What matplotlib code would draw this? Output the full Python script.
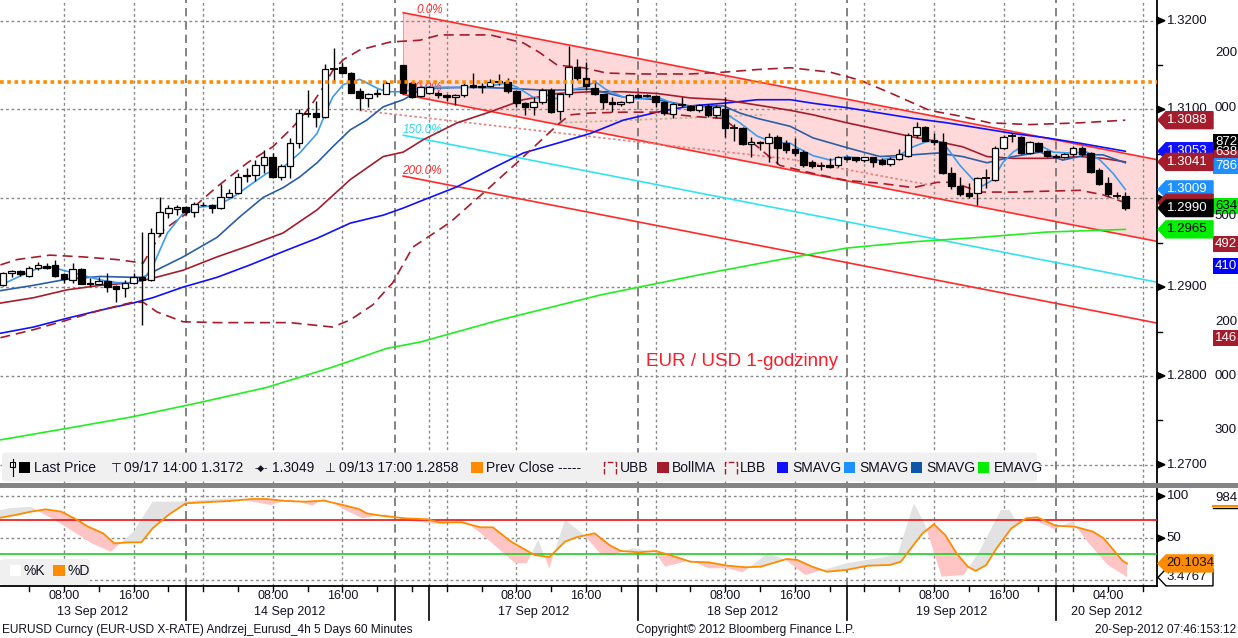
import numpy as np
import matplotlib
matplotlib.use("Agg")
import matplotlib.pyplot as plt
from matplotlib.patches import Polygon, Rectangle, FancyBboxPatch

plt.rcParams['font.family'] = ['Liberation Sans', 'DejaVu Sans']

# ---------------- data (hour index: 0 = 12 Sep 22:00, weekend compressed) ----------------
nan = np.nan
hours = list(range(3, 133))
opens = [1.2902, 1.2916, 1.2918, 1.2913, 1.2921, 1.2924, 1.2925, 1.2915, 1.2908, 1.2920,
         1.2905, 1.2903, 1.2907, 1.2901, 1.2899, 1.2905, 1.2911, 1.2908, 1.2961, 1.2984,
         1.2988, 1.2990, 1.2985, 1.2992, 1.2992, 1.2989, 1.3002, 1.3006, 1.3025, 1.3026,
         1.3037, 1.3047, 1.3024, 1.3036, 1.3062, 1.3095, 1.3096, 1.3091, 1.3146, 1.3148,
         1.3141, 1.3121, 1.3113, 1.3118, 1.3118, nan, 1.3150, 1.3130, 1.3115, 1.3119,
         1.3119, 1.3116, 1.3114, 1.3116, 1.3128, 1.3125, 1.3127, 1.3131, 1.3131, 1.3121,
         1.3107, 1.3103, 1.3109, 1.3122, 1.3098, 1.3118, 1.3148, 1.3136, 1.3124, 1.3117,
         1.3109, 1.3106, 1.3108, 1.3116, 1.3115, 1.3115, 1.3108, 1.3095, 1.3105, 1.3104,
         1.3099, 1.3104, 1.3094, 1.3101, 1.3079, 1.3079, 1.3061, 1.3063, 1.3062, 1.3069,
         1.3062, 1.3056, 1.3052, 1.3041, 1.3036, 1.3037, 1.3037, 1.3047, 1.3046, 1.3043,
         1.3046, 1.3043, 1.3039, 1.3044, 1.3048, 1.3071, 1.3080, 1.3066, 1.3063, 1.3028,
         1.3014, 1.3006, 1.3006, 1.3023, 1.3021, 1.3057, 1.3070, 1.3069, 1.3051, 1.3062,
         1.3053, 1.3048, 1.3046, 1.3050, 1.3057, 1.3051, 1.3032, 1.3017, 1.3003, 1.3003]
closes = [1.2916, 1.2918, 1.2915, 1.2922, 1.2925, 1.2922, 1.2913, 1.2909, 1.2920, 1.2904,
          1.2903, 1.2907, 1.2900, 1.2898, 1.2905, 1.2911, 1.2908, 1.2961, 1.2985, 1.2989,
          1.2990, 1.2985, 1.2994, 1.2993, 1.2989, 1.3002, 1.3006, 1.3024, 1.3026, 1.3037,
          1.3047, 1.3024, 1.3036, 1.3062, 1.3096, 1.3095, 1.3091, 1.3146, 1.3146, 1.3141,
          1.3119, 1.3113, 1.3118, 1.3119, 1.3130, nan, 1.3119, 1.3114, 1.3125, 1.3125,
          1.3116, 1.3114, 1.3116, 1.3128, 1.3125, 1.3126, 1.3131, 1.3131, 1.3121, 1.3107,
          1.3103, 1.3109, 1.3122, 1.3097, 1.3118, 1.3148, 1.3136, 1.3126, 1.3118, 1.3108,
          1.3106, 1.3108, 1.3116, 1.3114, 1.3115, 1.3108, 1.3096, 1.3106, 1.3105, 1.3099,
          1.3105, 1.3094, 1.3103, 1.3079, 1.3079, 1.3061, 1.3063, 1.3062, 1.3069, 1.3057,
          1.3054, 1.3051, 1.3037, 1.3036, 1.3036, 1.3035, 1.3047, 1.3044, 1.3043, 1.3046,
          1.3041, 1.3039, 1.3044, 1.3050, 1.3071, 1.3080, 1.3065, 1.3063, 1.3028, 1.3014,
          1.3005, 1.3003, 1.3023, 1.3023, 1.3057, 1.3069, 1.3070, 1.3051, 1.3063, 1.3053,
          1.3048, 1.3046, 1.3050, 1.3057, 1.3050, 1.3030, 1.3016, 1.3005, 1.3003, 1.2989]
highs = [1.2917, 1.2919, 1.2919, 1.2924, 1.2928, 1.2927, 1.2931, 1.2916, 1.2927, 1.2922,
         1.2910, 1.2911, 1.2916, 1.2902, 1.2908, 1.2916, 1.2962, 1.2967, 1.3001, 1.2993,
         1.2993, 1.2991, 1.2996, 1.2996, 1.2994, 1.3016, 1.3011, 1.3029, 1.3034, 1.3043,
         1.3054, 1.3051, 1.3039, 1.3068, 1.3101, 1.3122, 1.3110, 1.3151, 1.3169, 1.3153,
         1.3142, 1.3124, 1.3119, 1.3123, 1.3132, nan, 1.3150, 1.3131, 1.3126, 1.3126,
         1.3121, 1.3117, 1.3117, 1.3130, 1.3141, 1.3130, 1.3134, 1.3140, 1.3136, 1.3122,
         1.3108, 1.3114, 1.3124, 1.3124, 1.3119, 1.3172, 1.3157, 1.3154, 1.3133, 1.3118,
         1.3114, 1.3110, 1.3117, 1.3118, 1.3118, 1.3116, 1.3110, 1.3107, 1.3114, 1.3105,
         1.3106, 1.3106, 1.3105, 1.3114, 1.3084, 1.3080, 1.3069, 1.3065, 1.3074, 1.3071,
         1.3066, 1.3068, 1.3054, 1.3043, 1.3041, 1.3045, 1.3048, 1.3048, 1.3047, 1.3047,
         1.3047, 1.3045, 1.3046, 1.3056, 1.3073, 1.3086, 1.3081, 1.3073, 1.3074, 1.3035,
         1.3024, 1.3017, 1.3024, 1.3033, 1.3059, 1.3071, 1.3074, 1.3070, 1.3065, 1.3063,
         1.3054, 1.3050, 1.3051, 1.3059, 1.3059, 1.3052, 1.3034, 1.3024, 1.3007, 1.3007]
lows = [1.2901, 1.2911, 1.2912, 1.2911, 1.2919, 1.2920, 1.2911, 1.2905, 1.2905, 1.2903,
        1.2901, 1.2902, 1.2894, 1.2883, 1.2889, 1.2904, 1.2857, 1.2907, 1.2958, 1.2978,
        1.2981, 1.2981, 1.2979, 1.2991, 1.2984, 1.2988, 1.3001, 1.3005, 1.3018, 1.3020,
        1.3028, 1.3023, 1.3021, 1.3023, 1.3057, 1.3092, 1.3080, 1.3090, 1.3131, 1.3140,
        1.3119, 1.3099, 1.3103, 1.3114, 1.3117, nan, 1.3118, 1.3113, 1.3114, 1.3118,
        1.3113, 1.3110, 1.3105, 1.3114, 1.3124, 1.3119, 1.3126, 1.3128, 1.3119, 1.3103,
        1.3094, 1.3094, 1.3106, 1.3096, 1.3088, 1.3114, 1.3133, 1.3122, 1.3116, 1.3100,
        1.3097, 1.3104, 1.3107, 1.3113, 1.3114, 1.3103, 1.3094, 1.3090, 1.3103, 1.3098,
        1.3097, 1.3092, 1.3090, 1.3069, 1.3065, 1.3060, 1.3046, 1.3054, 1.3041, 1.3039,
        1.3051, 1.3048, 1.3035, 1.3034, 1.3032, 1.3034, 1.3035, 1.3043, 1.3041, 1.3041,
        1.3035, 1.3037, 1.3036, 1.3043, 1.3047, 1.3068, 1.3064, 1.3060, 1.3027, 1.3011,
        1.3003, 1.3000, 1.2992, 1.3012, 1.3020, 1.3056, 1.3063, 1.3050, 1.3050, 1.3052,
        1.3046, 1.3045, 1.3045, 1.3048, 1.3048, 1.3029, 1.3015, 1.3003, 1.3000, 1.2987]

# fast SMA (light blue)
sma_fast_h = [2.7, 4.0, 6.0, 7.0, 8.4, 9.9, 11.9, 14.2, 16.1, 17.9, 19.1, 20.2, 21.9, 23.7, 25.6,
              27.6, 29.4, 31.4, 33.3, 35.2, 37.1, 39.1, 40.2, 40.9, 42.1, 44.0, 46.0, 47.1, 49.0,
              51.3, 53.6, 55.9, 58.2, 60.9, 62.1, 63.9, 65.9, 67.0, 68.2, 69.7, 71.1, 72.4, 74.3,
              75.9, 78.2, 80.0, 82.0, 83.9, 85.8, 87.7, 89.7, 91.5, 93.5, 94.3, 96.1, 98.1, 100.0,
              101.9, 103.8, 105.8, 107.6, 109.2, 110.4, 111.5, 113.0, 114.5, 115.6, 116.8, 117.9,
              119.1, 120.7, 121.9, 123.7, 125.6, 127.6, 129.1, 130.6, 132.0]
sma_fast = [1.2902, 1.2908, 1.2917, 1.2921, 1.2923, 1.2919, 1.2914, 1.2908, 1.2905, 1.2905, 1.2908,
            1.2923, 1.2961, 1.2983, 1.2990, 1.2992, 1.3001, 1.3015, 1.3028, 1.3035, 1.3051, 1.3073,
            1.3099, 1.3114, 1.3128, 1.3134, 1.3124, 1.3120, 1.3120, 1.3125, 1.3125, 1.3125, 1.3125,
            1.3130, 1.3125, 1.3114, 1.3110, 1.3114, 1.3122, 1.3125, 1.3131, 1.3122, 1.3114, 1.3112,
            1.3114, 1.3107, 1.3103, 1.3103, 1.3097, 1.3085, 1.3070, 1.3063, 1.3062, 1.3057, 1.3048,
            1.3043, 1.3047, 1.3044, 1.3043, 1.3047, 1.3058, 1.3064, 1.3064, 1.3057, 1.3037, 1.3021,
            1.3014, 1.3021, 1.3040, 1.3052, 1.3062, 1.3061, 1.3052, 1.3051, 1.3052, 1.3043, 1.3028,
            1.3010]
# mid SMA (steel blue)
sma_mid_h = [2.7, 6.5, 10.4, 14.2, 17.9, 19.1, 20.2, 23.7, 27.6, 30.2, 32.9, 35.2, 37.1, 39.1, 40.9,
             42.9, 44.8, 46.7, 49.0, 51.3, 57.0, 60.9, 64.7, 67.4, 70.5, 74.3, 78.2, 82.0, 85.8, 87.7,
             89.7, 93.5, 96.1, 100.0, 103.8, 107.6, 110.4, 113.3, 116.1, 119.1, 122.2, 124.8, 127.6,
             129.4, 132.0]
sma_mid = [1.2896, 1.2902, 1.2909, 1.2912, 1.2911, 1.2911, 1.2917, 1.2934, 1.2956, 1.2979, 1.3001,
           1.3012, 1.3024, 1.3040, 1.3058, 1.3077, 1.3088, 1.3103, 1.3111, 1.3124, 1.3125, 1.3124,
           1.3122, 1.3122, 1.3123, 1.3114, 1.3111, 1.3104, 1.3104, 1.3096, 1.3090, 1.3081, 1.3068,
           1.3057, 1.3047, 1.3049, 1.3051, 1.3047, 1.3040, 1.3047, 1.3052, 1.3043, 1.3049, 1.3049,
           1.3040]
# slow SMA (blue)
sma_slow_h = [2.7, 6.5, 10.4, 14.2, 17.9, 20.2, 23.7, 27.6, 31.4, 35.2, 39.1, 42.9, 46.7, 49.0, 51.3,
              55.2, 58.9, 62.8, 66.7, 70.5, 74.3, 78.2, 82.0, 85.8, 89.7, 93.5, 96.1, 100.0, 103.8,
              107.6, 111.5, 115.3, 119.1, 123.0, 126.8, 132.0]
sma_slow = [1.2848, 1.2855, 1.2865, 1.2874, 1.2882, 1.2888, 1.2900, 1.2911, 1.2925, 1.2940, 1.2955,
            1.2972, 1.2981, 1.2989, 1.2998, 1.3013, 1.3032, 1.3051, 1.3062, 1.3073, 1.3088, 1.3097,
            1.3104, 1.3107, 1.3111, 1.3111, 1.3107, 1.3102, 1.3096, 1.3090, 1.3085, 1.3079, 1.3073,
            1.3068, 1.3062, 1.3053]
# Bollinger middle / upper / lower
boll_h = [2.7, 6.5, 10.4, 14.2, 17.9, 20.2, 23.7, 27.6, 31.4, 35.2, 39.1, 42.9, 46.7, 49.0, 51.3, 55.2,
          58.9, 62.8, 66.7, 70.5, 74.3, 78.2, 82.0, 85.8, 89.7, 93.5, 96.1, 100.0, 103.8, 107.6, 110.4,
          113.3, 116.1, 119.1, 123.0, 126.8, 129.4, 132.0]
boll_ma = [1.2882, 1.2888, 1.2897, 1.2902, 1.2905, 1.2910, 1.2919, 1.2934, 1.2947, 1.2961, 1.2987,
           1.3021, 1.3047, 1.3052, 1.3066, 1.3085, 1.3097, 1.3111, 1.3118, 1.3120, 1.3120, 1.3118,
           1.3113, 1.3111, 1.3105, 1.3099, 1.3094, 1.3085, 1.3077, 1.3069, 1.3064, 1.3058, 1.3047,
           1.3045, 1.3045, 1.3047, 1.3045, 1.3041]
ubb_h = [2.7, 4.6, 8.4, 12.2, 16.1, 19.1, 21.4, 24.1, 27.6, 31.1, 34.0, 36.3, 38.3, 39.8, 40.9, 42.1,
         44.0, 47.5, 50.9, 53.2, 59.0, 62.8, 64.7, 66.7, 69.7, 72.4, 76.2, 82.0, 85.8, 89.7, 93.5, 98.1,
         101.5, 104.9, 109.5, 113.3, 116.4, 121.0, 126.8, 132.0]
ubb = [1.2925, 1.2931, 1.2936, 1.2934, 1.2931, 1.2927, 1.2964, 1.2983, 1.3013, 1.3040, 1.3058, 1.3080,
       1.3103, 1.3125, 1.3144, 1.3156, 1.3167, 1.3176, 1.3178, 1.3184, 1.3184, 1.3175, 1.3164, 1.3150,
       1.3147, 1.3141, 1.3140, 1.3140, 1.3142, 1.3145, 1.3147, 1.3142, 1.3133, 1.3119, 1.3099, 1.3092,
       1.3085, 1.3083, 1.3085, 1.3088]
lbb_h = [2.7, 6.5, 10.4, 14.2, 17.9, 19.1, 20.7, 23.7, 27.6, 33.3, 36.0, 40.9, 42.9, 45.5, 47.8, 50.1,
         54.4, 58.9, 62.4, 67.0, 68.2, 70.5, 74.3, 78.2, 80.5, 83.9, 85.8, 92.3, 96.1, 100.0, 103.8,
         107.6, 110.4, 112.2, 115.3, 119.1, 126.8, 129.4, 132.0]
lbb = [1.2843, 1.2852, 1.2863, 1.2874, 1.2883, 1.2883, 1.2872, 1.2861, 1.2860, 1.2860, 1.2860, 1.2855,
       1.2863, 1.2880, 1.2905, 1.2945, 1.2973, 1.3012, 1.3043, 1.3085, 1.3094, 1.3096, 1.3097, 1.3097,
       1.3094, 1.3091, 1.3090, 1.3037, 1.3028, 1.3020, 1.3017, 1.3012, 1.3018, 1.3018, 1.3007, 1.3007,
       1.3009, 1.3004, 1.2995]
# EMA (green)
ema_h = [2.7, 10.4, 17.9, 25.6, 33.3, 40.9, 47.1, 50.9, 60.1, 71.6, 83.1, 92.3, 100.0, 107.6, 115.3,
         123.0, 132.0]
ema = [1.2728, 1.2741, 1.2754, 1.2770, 1.2787, 1.2810, 1.2831, 1.2838, 1.2863, 1.2891, 1.2914, 1.2931,
       1.2944, 1.2951, 1.2956, 1.2962, 1.2965]

prev_close = 1.31315
# Fibonacci channel
fib_start_h = 49.0
fib_top_start = 1.3209
fib_slope = -0.000191
fib_width = 0.0092
# dotted trend lines
trend_salmon_h = [44.0, 93.5, 110.1]
trend_salmon = [1.3099, 1.3044, 1.3014]
trend_olive_h = [67.0, 90.6]
trend_olive = [1.3085, 1.3094]

# Stochastic
stoch_k_h = [2.7, 3.9, 6.2, 9.9, 13.2, 15.4, 18.0, 20.2, 23.2, 25.5, 29.4, 33.8, 36.0, 38.6, 39.9, 42.1,
             44.3, 46.9, 49.8, 53.5, 55.7, 57.9, 61.9, 63.2, 64.5, 65.8, 67.6, 69.8, 71.8, 73.0, 75.3,
             77.9, 79.1, 82.0, 84.1, 86.3, 88.0, 90.9, 93.0, 95.2, 99.9, 105.8, 107.7, 109.0, 110.9,
             113.4, 115.1, 117.7, 118.7, 119.5, 120.8, 123.8, 125.9, 127.8, 130.0, 131.7, 132.2]
stoch_k = [83.7, 86, 87.6, 65.8, 44, 34, 57.9, 93.6, 93.6, 95.6, 97.8, 89.6, 96.8, 88.8, 97.8, 84.9,
           73.8, 78.6, 70.6, 66.7, 73, 56, 20.2, 20.2, 48, 14.3, 71.8, 54, 30, 30, 38.1,
           34, 16.2, 24, 14.3, 14.3, 9.5, 32.1, 24, 6.3, 20.2, 30, 91.6, 65.8, 4.3,
           6.3, 32.1, 83.7, 83.7, 69.8, 75, 61, 69.8, 44, 18.2, 7.1, 3.4767]
stoch_d_h = [2.7, 4.4, 6.2, 7.9, 9.7, 11.2, 12.8, 14.5, 15.8, 17.6, 18.9, 20.2, 22.0, 24.0, 25.9, 29.0,
             31.6, 33.3, 35.5, 37.7, 39.9, 42.1, 43.9, 44.8, 46.5, 49.2, 51.8, 53.1, 55.7, 57.9, 59.3,
             61.4, 64.1, 65.8, 67.6, 68.9, 71.0, 72.7, 74.0, 76.1, 78.0, 79.9, 82.0, 84.1, 86.3, 88.4,
             90.1, 91.4, 93.1, 94.3, 96.0, 97.7, 99.9, 102.4, 104.9, 106.2, 107.5, 108.7, 110.0, 111.3,
             112.6, 113.9, 114.8, 116.0, 117.2, 118.9, 120.6, 121.9, 124.0, 126.2, 128.3, 129.5, 131.7,
             132.2]
stoch_d = [74.5, 77.7, 81.7, 84.5, 81.7, 73.8, 63.8, 56, 44, 45.2, 45.2, 61.9, 77.7, 91.6, 92.8, 94.4,
           96.8, 96.8, 94.4, 93.6, 94.8, 89.6, 84.9, 79.7, 76.9, 73.8, 72.6, 69, 69, 63.1, 63.1,
           46, 30.1, 27.7, 46, 51.2, 56, 42, 34.9, 33.3, 34.9, 29.3, 22.1, 21.4, 17.4, 15.5,
           16.2, 20.2, 25.4, 24.2, 16.2, 10.2, 12.3, 17.4, 18.2, 22.1, 40, 56, 66.7, 53.9,
           32.1, 16.2, 11.1, 18.2, 38.1, 61.9, 73.8, 75, 65, 63.8, 57.9, 50, 23, 20.1034]
stoch_upper, stoch_lower = 72, 31

price_ticks = [1.3200, 1.3100, 1.3000, 1.2900, 1.2800, 1.2700]
price_labels = ["1.3200", "1.3100", "", "1.2900", "1.2800", "1.2700"]
time_ticks = [10, 18, 34, 42, 62, 70, 86, 94, 110, 118, 130]
time_labels = ["08:00", "16:00", "08:00", "16:00", "08:00", "16:00", "08:00", "16:00", "08:00", "16:00", "04:00"]
day_bounds = [24, 48, 52, 76, 100, 124]
day_labels = ["13 Sep 2012", "14 Sep 2012", "17 Sep 2012", "18 Sep 2012", "19 Sep 2012", "20 Sep 2012"]
day_spans = [(0, 24), (24, 48), (52, 76), (76, 100), (100, 124), (124, 136)]

for arr in (opens, closes, highs, lows):
    assert len(arr) == len(hours)
for a, b in ((sma_fast_h, sma_fast), (sma_mid_h, sma_mid), (sma_slow_h, sma_slow), (boll_h, boll_ma),
             (ubb_h, ubb), (lbb_h, lbb), (ema_h, ema), (stoch_k_h, stoch_k), (stoch_d_h, stoch_d)):
    assert len(a) == len(b), (len(a), len(b))

# ---------------- figure ----------------
W, H = 1238, 638
fig = plt.figure(figsize=(W / 100, H / 100), dpi=100)
fig.patch.set_facecolor('white')

def F(x, y):
    return (x / W, 1 - y / H)

def rect(x0, y0, x1, y1, fc, ec='none', lw=0, z=10):
    r = Rectangle((x0 / W, 1 - y1 / H), (x1 - x0) / W, (y1 - y0) / H, transform=fig.transFigure,
                  facecolor=fc, edgecolor=ec, lw=lw, zorder=z)
    fig.add_artist(r)
    return r

def txt(x, y, s, size=9.5, color='#111122', ha='left', va='center', z=12, **kw):
    return fig.text(x / W, 1 - y / H, s, fontsize=size, color=color, ha=ha, va=va, zorder=z, **kw)

AXR = 1157
XL = (2.655, 135.64)
ax = fig.add_axes([0, 1 - 483 / H, AXR / W, 483 / H])
ax2 = fig.add_axes([0, 1 - 586 / H, AXR / W, 98 / H])
ax.set_xlim(*XL)
ax.set_ylim(1.26794, 1.32233)
ax2.set_xlim(*XL)
ax2.set_ylim(-6.8, 109.9)
for a in (ax, ax2):
    a.set_xticks([])
    a.set_yticks([])
    for s in ('top', 'left', 'bottom'):
        a.spines[s].set_visible(False)
    a.spines['right'].set_color('black')
    a.spines['right'].set_linewidth(1.3)
ax2.spines['bottom'].set_visible(True)
ax2.spines['bottom'].set_linewidth(1.3)

def ypix(a, v):
    return H - a.transData.transform((XL[0], v))[1]

def xpix(a, h):
    return a.transData.transform((h, 0))[0]

GRID = '#8a8a8a'
dotted_v = [10, 18, 26, 34, 42, 52, 54, 62, 70, 78, 86, 94, 102, 110, 118, 126, 134]
for a in (ax, ax2):
    for h in dotted_v:
        a.axvline(h, color=GRID, lw=1, ls=(0, (2, 2)), zorder=1)
    for h in [24, 48, 76, 100, 124]:
        a.axvline(h, color='#6e6e6e', lw=1.2, ls=(0, (5, 3)), zorder=1)
for p in price_ticks:
    ax.axhline(p, color=GRID, lw=1, ls=(0, (2, 2)), zorder=1)
for v in (100, 50, 0):
    ax2.axhline(v, color=GRID, lw=1, ls=(0, (2, 2)), zorder=1)

# Fibonacci channel
fx = np.array([fib_start_h, XL[1]])
top = fib_top_start + fib_slope * (fx - fib_start_h)
ax.fill_between(fx, top, top - fib_width, color='#ffd9d9', zorder=0.5, lw=0)
ax.plot([fib_start_h, fib_start_h], [fib_top_start, fib_top_start - fib_width], color='#ff9a9a', lw=0.8, zorder=0.6)
for lvl, col in ((0, '#ff2a2a'), (1.0, '#ff2a2a'), (1.5, '#33e3f2'), (2.0, '#ff2a2a')):
    ax.plot(fx, top - lvl * fib_width, color=col, lw=1.2, zorder=2)
fib_text_style = dict(fontsize=8.5, style='italic', va='center', ha='left', zorder=3)
ax.text(50.5, 1.3212, "0.0%", color='#ff2a2a', **fib_text_style)
ax.text(48.9, 1.3124, "100.0%", color='#ff2a2a', **fib_text_style)
ax.text(48.9, 1.3077, "150.0%", color='#33d8ea', **fib_text_style)
ax.text(48.9, 1.3031, "200.0%", color='#ff2a2a', **fib_text_style)

# dotted trend lines
ax.plot(trend_salmon_h, trend_salmon, color='#e88080', lw=1.2, ls=(0, (1.5, 1.5)), zorder=2)
ax.plot(trend_olive_h, trend_olive, color='#b9b49a', lw=1.2, ls=(0, (1.5, 1.5)), zorder=2)

# overlays
ax.plot(ema_h, ema, color='#22ee22', lw=1.2, zorder=3)
ax.plot(sma_slow_h, sma_slow, color='#1010ff', lw=1.2, zorder=3)
ax.plot(boll_h, boll_ma, color='#a51d2d', lw=1.2, zorder=3)
ax.plot(ubb_h, ubb, color='#a51d2d', lw=1.2, ls=(0, (6, 3.5)), zorder=3)
ax.plot(lbb_h, lbb, color='#a51d2d', lw=1.2, ls=(0, (6, 3.5)), zorder=3)
ax.plot(sma_mid_h, sma_mid, color='#2a5ea8', lw=1.2, zorder=3)
ax.plot(sma_fast_h, sma_fast, color='#3c9cf0', lw=1.2, zorder=3)

# candles
hrs = np.array(hours, float)
o = np.array(opens); c = np.array(closes); hi = np.array(highs); lo = np.array(lows)
ok = ~np.isnan(o)
ax.vlines(hrs[ok], lo[ok], hi[ok], color='black', lw=1, zorder=5)
for h, oo, cc in zip(hrs[ok], o[ok], c[ok]):
    if abs(oo - cc) < 0.00005:
        ax.hlines(cc, h - 0.45, h + 0.45, color='black', lw=1.3, zorder=6)
    else:
        up = cc > oo
        ax.bar(h, abs(cc - oo), bottom=min(oo, cc), width=0.74, color='white' if up else 'black',
               edgecolor='black', lw=0.9, zorder=6)

ax.axhline(prev_close, color='#ff8c00', lw=2.6, ls=(0, (1, 1)), zorder=7)
ax.text(87.9, 1.2816, "EUR / USD 1-godzinny", color='#ff1a2a', fontsize=13.5, ha='center', va='center', zorder=8)

# stochastic panel
grid_h = np.linspace(XL[0], stoch_d_h[-1], 3000)
ki = np.interp(grid_h, stoch_k_h, stoch_k)
di = np.interp(grid_h, stoch_d_h, stoch_d)
ax2.fill_between(grid_h, ki, di, where=ki >= di, interpolate=True, color='#e2e2e2', lw=0, zorder=2)
ax2.fill_between(grid_h, ki, di, where=ki < di, interpolate=True, color='#ffc4c4', lw=0, zorder=2)
ax2.axhline(stoch_upper, color='#ee1111', lw=1.2, zorder=3)
ax2.axhline(stoch_lower, color='#22cc22', lw=1.2, zorder=3)
ax2.plot(stoch_d_h, stoch_d, color='#ff8c00', lw=1.3, zorder=4)

# separator bar
rect(0, 482.5, W, 487.5, '#848484', z=15)

# legend strip (main)
fig.add_artist(FancyBboxPatch((2 / W, 1 - 481.5 / H), 1035 / W, 29 / H, boxstyle='round,pad=0,rounding_size=0.004',
                              transform=fig.transFigure, facecolor='#f0f0f0', edgecolor='none', zorder=0.5))
LY = 468
rect(10, 462, 15, 467, 'white', ec='black', lw=0.8, z=12)
fig.add_artist(plt.Line2D([12.5 / W, 12.5 / W], [1 - 459 / H, 1 - 476 / H], transform=fig.transFigure, color='black', lw=0.8, zorder=12))
rect(19, 462, 30, 473, 'black', z=12)
txt(33.5, LY, "Last Price", 10)
txt(111, LY, "⊤", 9, family='DejaVu Sans')
txt(123.5, LY, "09/17 14:00 1.3172", 10)
txt(255, LY, "-◆-", 6.5, family='DejaVu Sans')
txt(272, LY, "1.3049", 10)
txt(325, LY, "⊥", 9, family='DejaVu Sans')
txt(339, LY, "09/13 17:00 1.2858", 10)
rect(471, 462, 483, 473, '#ff8c00', z=12)
txt(486, LY, "Prev Close -----", 10)
for bx in (604, 725):
    fig.add_artist(plt.Line2D([bx / W, bx / W, (bx + 12) / W, (bx + 12) / W],
                              [1 - 474 / H, 1 - 462 / H, 1 - 462 / H, 1 - 474 / H],
                              transform=fig.transFigure, color='#a51d2d', lw=1, ls=(0, (4, 1.5)), zorder=12))
txt(619.5, LY, "UBB", 10)
rect(657, 462, 669, 473, '#a51d2d', z=12)
txt(672, LY, "BollMA", 10)
txt(740, LY, "LBB", 10)
rect(777, 462, 788, 473, '#1010ff', z=12)
txt(792, LY, "SMAVG", 10)
rect(844, 462, 855, 473, '#1e90ff', z=12)
txt(859, LY, "SMAVG", 10)
rect(911, 462, 922, 473, '#0d55a6', z=12)
txt(926, LY, "SMAVG", 10)
rect(978, 462, 989, 473, '#00ee00', z=12)
txt(994, LY, "EMAVG", 10)

# legend strip (stochastic)
fig.add_artist(FancyBboxPatch((0, 1 - 585 / H), 90 / W, 26 / H, boxstyle='round,pad=0,rounding_size=0.004',
                              transform=fig.transFigure, facecolor='#f0f0f0', edgecolor='none', zorder=11))
rect(9.5, 565, 21, 576, 'white', z=12)
txt(23.5, 571, "%K", 10)
rect(53, 565, 65, 576, '#ff8c00', z=12)
txt(68, 571, "%D", 10)

# right price axis
def tri(y):
    fig.add_artist(Polygon([F(AXR, y - 3.5), F(AXR + 8, y), F(AXR, y + 3.5)], closed=True,
                           transform=fig.transFigure, color='black', zorder=12))

for p, lab in zip(price_ticks, price_labels):
    y = ypix(ax, p)
    tri(y)
    if lab:
        txt(1166.5, y, lab, 9.5)
for p in (1.3150, 1.3050, 1.2950, 1.2850, 1.2750):
    y = ypix(ax, p)
    fig.add_artist(plt.Line2D([AXR / W, (AXR + 5) / W], [1 - y / H, 1 - y / H], transform=fig.transFigure, color='black', lw=1, zorder=12))
for v, lab in ((100, "100"), (50, "50")):
    y = ypix(ax2, v)
    tri(y)
    txt(1166.5, y, lab, 9.5)

# clipped column of tags behind
def stub(y, s, fc=None, tc='#111122', ec=None):
    if fc is not None:
        rect(1213, y - 8, 1238, y + 8, fc, ec=ec or 'none', lw=0.8 if ec else 0, z=13)
    txt(1237, y, s, 9.5, tc, ha='right', z=13.5)

stub(53, "200")
stub(108, "000")
stub(152, "638", '#a51d2d', 'white')
stub(142, "872", 'black', 'white')
stub(166, "786", '#1e90ff', 'white')
stub(216, "500")
stub(206, "634", '#00ee00', 'black')
stub(244, "492", '#a51d2d', 'white')
stub(266, "410", '#0000ff', 'white')
stub(322, "200")
stub(338, "146", '#a51d2d', 'white')
stub(376, "000")
stub(430, "300")
stub(498, "984", 'white', '#111122')
fig.add_artist(plt.Line2D([1213 / W, 1238 / W], [1 - 505.5 / H, 1 - 505.5 / H], transform=fig.transFigure, color='#ff8c00', lw=1.5, zorder=14))
fig.add_artist(plt.Line2D([1213 / W, 1238 / W], [1 - 507.5 / H, 1 - 507.5 / H], transform=fig.transFigure, color='black', lw=1, zorder=14))

def tag(a, val, text, fc, tc, ec=None, z=20):
    y = ypix(a, val)
    x0, x1, hh = 1158, 1213, 17
    pts = [F(x0, y), F(x0 + 8, y - hh / 2), F(x1, y - hh / 2), F(x1, y + hh / 2), F(x0 + 8, y + hh / 2)]
    fig.add_artist(Polygon(pts, closed=True, transform=fig.transFigure, facecolor=fc,
                           edgecolor=ec if ec else fc, lw=1, zorder=z))
    txt(x0 + 8.5, y, text, 9.5, tc, z=z + 0.5)

tag(ax, ubb[-1], "1.3088", '#a51d2d', 'white', z=20)
tag(ax, sma_slow[-1], "1.3053", '#1010ff', 'white', z=21)
tag(ax, boll_ma[-1], "1.3041", '#a51d2d', 'white', z=22)
tag(ax, sma_fast[-1], "1.3009", '#1e90ff', 'white', z=23)
tag(ax, lbb[-1], "", '#a51d2d', 'white', z=24)
tag(ax, closes[-1], "1.2990", 'black', 'white', z=25)
tag(ax, ema[-1], "1.2965", '#00ee00', 'black', z=26)
tag(ax2, stoch_k[-1], "3.4767", 'white', '#111122', ec='black', z=20)
tag(ax2, stoch_d[-1], "20.1034", '#ff8c00', '#111122', z=21)

# x axis of bottom panel
for h, lab in zip(time_ticks, time_labels):
    txt(xpix(ax2, h), 596, lab, 9, ha='center')
for (a0, a1), lab in zip(day_spans, day_labels):
    lo_h, hi_h = max(a0, XL[0]), min(a1, XL[1])
    txt(xpix(ax2, (lo_h + hi_h) / 2), 612, lab, 9, ha='center')
for h in day_bounds:
    x = xpix(ax2, h)
    fig.add_artist(plt.Line2D([x / W, x / W], [1 - 586 / H, 1 - 620 / H], transform=fig.transFigure, color='black', lw=1.2, zorder=12))
for h in range(2, 136, 4):
    if h < XL[0] or h in day_bounds:
        continue
    x = xpix(ax2, h)
    fig.add_artist(plt.Line2D([x / W, x / W], [1 - 586 / H, 1 - 591 / H], transform=fig.transFigure, color='black', lw=1, zorder=12))

txt(2, 630, "EURUSD Curncy (EUR-USD X-RATE) Andrzej_Eurusd_4h 5 Days 60 Minutes", 8.6)
txt(636, 630, "Copyright© 2012 Bloomberg Finance L.P.", 8.6)
txt(1236, 630, "20-Sep-2012 07:46:153:12", 8.6, ha='right')

fig.savefig("out.png", dpi=100, facecolor='white')
